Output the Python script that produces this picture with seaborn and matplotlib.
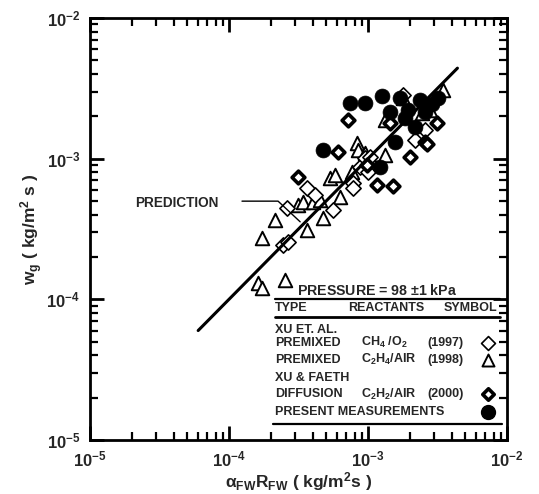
import numpy as np
import pandas as pd
import seaborn as sns
import matplotlib
matplotlib.use("Agg")
import matplotlib.pyplot as plt
from matplotlib.ticker import LogLocator, LogFormatterSciNotation, NullFormatter

# ---------------- data ----------------
# Xu et al. premixed CH4/O2 (1997) - open diamonds
ch4_x = [2.61e-4, 2.45e-4, 2.65e-4, 3.64e-4, 4.16e-4, 5.60e-4, 7.80e-4, 7.80e-4,
         8.75e-4, 1.00e-3, 9.51e-4, 1.03e-3, 1.79e-3, 2.18e-3, 2.57e-3]
ch4_y = [4.47e-4, 2.44e-4, 2.56e-4, 6.19e-4, 5.52e-4, 4.32e-4, 6.72e-4, 6.19e-4,
         8.73e-4, 8.04e-4, 1.01e-3, 1.03e-3, 2.84e-3, 1.36e-3, 1.60e-3]

# Xu et al. premixed C2H4/air (1998) - open triangles
c2h4_x = [1.62e-4, 1.73e-4, 2.53e-4, 1.73e-4, 2.14e-4, 3.13e-4, 3.40e-4, 3.64e-4,
          4.74e-4, 4.02e-4, 4.52e-4, 5.33e-4, 5.79e-4, 6.29e-4, 7.68e-4, 8.34e-4,
          8.48e-4, 9.51e-4, 1.03e-3, 1.32e-3, 1.32e-3, 1.79e-3, 2.44e-3, 2.79e-3, 3.46e-3]
c2h4_y = [1.31e-4, 1.20e-4, 1.37e-4, 2.73e-4, 3.67e-4, 4.69e-4, 4.92e-4, 3.11e-4,
          3.79e-4, 4.92e-4, 5.09e-4, 7.29e-4, 7.65e-4, 5.35e-4, 8.04e-4, 1.29e-3,
          1.15e-3, 1.10e-3, 1.03e-3, 1.88e-3, 1.06e-3, 2.70e-3, 2.11e-3, 2.22e-3, 3.08e-3]

# Xu & Faeth diffusion C2H2/air (2000) - bold diamonds
c2h2_x = [7.18e-4, 6.09e-4, 3.13e-4, 1.16e-3, 1.51e-3, 2.00e-3, 2.57e-3, 3.13e-3,
          1.44e-3, 9.84e-4, 2.65e-3]
c2h2_y = [1.88e-3, 1.12e-3, 7.41e-4, 6.50e-4, 6.40e-4, 1.03e-3, 1.32e-3, 1.79e-3,
          1.79e-3, 9.02e-4, 1.28e-3]

# Present measurements - filled circles
pres_x = [7.43e-4, 9.50e-4, 1.26e-3, 1.70e-3, 1.94e-3, 2.37e-3, 2.88e-3, 2.18e-3,
          1.56e-3, 1.22e-3, 4.74e-4, 1.44e-3, 1.84e-3, 2.57e-3, 3.18e-3]
pres_y = [2.49e-3, 2.49e-3, 2.79e-3, 2.70e-3, 2.22e-3, 2.61e-3, 2.45e-3, 1.68e-3,
          1.32e-3, 8.73e-4, 1.15e-3, 2.16e-3, 1.95e-3, 2.16e-3, 2.70e-3]

# prediction line w_g = alpha_FW * R_FW
pred_x = [6.0e-5, 4.4e-3]
pred_y = [6.0e-5, 4.4e-3]

# ---------------- style ----------------
sns.set_theme(style="ticks")
plt.rcParams["font.family"] = ["Liberation Sans", "DejaVu Sans"]
plt.rcParams["font.weight"] = "bold"
plt.rcParams["mathtext.fontset"] = "custom"
plt.rcParams["mathtext.rm"] = "Liberation Sans:bold"
plt.rcParams["mathtext.bf"] = "Liberation Sans:bold"
plt.rcParams["mathtext.it"] = "Liberation Sans:bold"
plt.rcParams["mathtext.default"] = "regular"

fig = plt.figure(figsize=(5.39, 4.94), dpi=100)
ax = fig.add_axes([90/539, 1-440/494, 417/539, 422/494])

df_ch4 = pd.DataFrame({"x": ch4_x, "y": ch4_y})
df_c2h4 = pd.DataFrame({"x": c2h4_x, "y": c2h4_y})
df_c2h2 = pd.DataFrame({"x": c2h2_x, "y": c2h2_y})
df_pres = pd.DataFrame({"x": pres_x, "y": pres_y})
df_pred = pd.DataFrame({"x": pred_x, "y": pred_y})

sns.scatterplot(data=df_c2h4, x="x", y="y", ax=ax, marker="^", s=95,
                facecolor="white", edgecolor="black", linewidth=1.4, zorder=3)
sns.scatterplot(data=df_ch4, x="x", y="y", ax=ax, marker="D", s=60,
                facecolor="white", edgecolor="black", linewidth=1.2, zorder=3)
sns.scatterplot(data=df_c2h2, x="x", y="y", ax=ax, marker="D", s=42,
                facecolor="white", edgecolor="black", linewidth=2.6, zorder=3)
sns.scatterplot(data=df_pres, x="x", y="y", ax=ax, marker="o", s=115,
                color="black", edgecolor="black", linewidth=0.5, zorder=4)
sns.lineplot(data=df_pred, x="x", y="y", ax=ax, color="black", linewidth=2.2,
             zorder=5, estimator=None, sort=False)

ax.set_xscale("log")
ax.set_yscale("log")
ax.set_xlim(1e-5, 1e-2)
ax.set_ylim(1e-5, 1e-2)

for axis in (ax.xaxis, ax.yaxis):
    axis.set_major_locator(LogLocator(base=10, numticks=10))
    axis.set_minor_locator(LogLocator(base=10, subs=np.arange(2, 10), numticks=20))
    axis.set_major_formatter(LogFormatterSciNotation())
    axis.set_minor_formatter(NullFormatter())

ax.tick_params(which="both", direction="in", top=True, right=True, color="black",
               labelsize=12, pad=7)
ax.tick_params(which="major", length=10, width=2.0)
ax.tick_params(which="minor", length=6, width=1.6)
for lab in ax.get_xticklabels() + ax.get_yticklabels():
    lab.set_fontweight("bold")
for sp in ax.spines.values():
    sp.set_linewidth(2.0)
    sp.set_color("black")

ax.set_xlabel(r"$\alpha_{FW}R_{FW}$ ( kg/m$^2$s )", fontsize=12.5, fontweight="bold", labelpad=0)
ax.set_ylabel(r"w$_g$ ( kg/m$^2$ s )", fontsize=12.5, fontweight="bold", labelpad=1)

# PREDICTION label with leader
ax.text(0.108, 0.562, "PREDICTION", transform=ax.transAxes, fontsize=9.8,
        fontweight="bold", va="center", ha="left")
ax.plot([0.3645, 0.451, 0.504], [0.566, 0.566, 0.517], transform=ax.transAxes,
        color="black", linewidth=1.0, zorder=6)

# legend table
T = ax.transAxes
fs = 9.0
ax.text(0.496, 0.355, r"PRESSURE = 98 $\pm$1 kPa", transform=T, fontsize=10.2,
        fontweight="bold", va="center", ha="left")
ax.plot([0.444, 0.983], [0.334, 0.334], transform=T, color="black", lw=1.6)
ax.text(0.444, 0.313, "TYPE", transform=T, fontsize=fs, fontweight="bold", va="center")
ax.text(0.619, 0.313, "REACTANTS", transform=T, fontsize=fs, fontweight="bold", va="center")
ax.text(0.976, 0.313, "SYMBOL", transform=T, fontsize=fs, fontweight="bold", va="center", ha="right")
ax.plot([0.444, 0.983], [0.292, 0.292], transform=T, color="black", lw=2.0)

rows = [
    (0.261, "XU ET. AL.", None, None, None),
    (0.230, "PREMIXED", r"CH$_4$ /O$_2$", "(1997)", "ch4"),
    (0.190, "PREMIXED", r"C$_2$H$_4$/AIR", "(1998)", "c2h4"),
    (0.147, "XU & FAETH", None, None, None),
    (0.109, "DIFFUSION", r"C$_2$H$_2$/AIR", "(2000)", "c2h2"),
    (0.066, "PRESENT MEASUREMENTS", None, None, "pres"),
]
for fy, t1, t2, t3, sym in rows:
    ax.text(0.444, fy, t1, transform=T, fontsize=fs, fontweight="bold", va="center")
    if t2:
        ax.text(0.650, fy, t2, transform=T, fontsize=fs, fontweight="bold", va="center")
    if t3:
        ax.text(0.808, fy, t3, transform=T, fontsize=fs, fontweight="bold", va="center")
    if sym == "ch4":
        ax.scatter([0.954], [fy], transform=T, marker="D", s=50, facecolor="white",
                   edgecolor="black", linewidth=1.2, zorder=6, clip_on=False)
    elif sym == "c2h4":
        ax.scatter([0.954], [fy], transform=T, marker="^", s=75, facecolor="white",
                   edgecolor="black", linewidth=1.4, zorder=6, clip_on=False)
    elif sym == "c2h2":
        ax.scatter([0.954], [fy], transform=T, marker="D", s=34, facecolor="white",
                   edgecolor="black", linewidth=2.6, zorder=6, clip_on=False)
    elif sym == "pres":
        ax.scatter([0.954], [fy], transform=T, marker="o", s=100, color="black",
                   zorder=6, clip_on=False)
ax.plot([0.439, 0.988], [0.038, 0.038], transform=T, color="black", lw=1.6)

fig.savefig("out.png", dpi=100)
